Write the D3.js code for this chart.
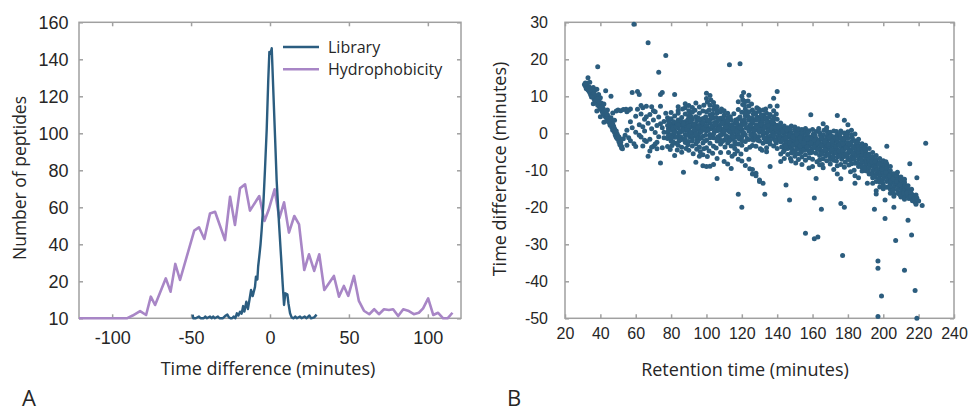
<!DOCTYPE html>
<html>
<head>
<meta charset="utf-8">
<script src="https://cdn.jsdelivr.net/npm/d3@7"></script>
<style>
  body { margin: 0; background: #fff; }
  svg { font-family: "Open Sans", Lato, sans-serif; }
  .axis text { fill: #262626; }
  .axis line { stroke: #a0a0a0; stroke-width: 1.5; }
  .axis path { display: none; }
</style>
</head>
<body>
<div id="chart"></div>
<script>
// ---- panel A data: histogram of time differences ----
var libraryX = [-49, -48.6, -47, -45, -44, -42, -41, -40, -38, -37, -36, -35, -33, -32, -30, -28, -27, -26, -25, -24, -23, -22,
  -21, -20, -19, -18, -17, -16.2, -15, -14, -13, -12, -11, -10.5, -9.5, -8.9, -8, -7.5, -6.8, -6, -5.3, -4.2, -3.2, -2.1, -1.1,
  -0.4, 0.3, 1.1, 2.1, 3.2, 4.2, 5.7, 7, 8, 8.9, 9.7, 11, 11.7, 12.7, 13.7, 15, 16, 17, 19, 20, 22, 23, 25, 26, 28, 29.5];
var libraryCount = [2, 0, 0, 1, 0, 0, 1, 0, 1, 0, 1, 0, 1, 0, 0, 1.5, 2, 0.5, 0, 0, 1, 0,
  2.7, 1.5, 3.6, 2.5, 6.6, 3.6, 9, 5, 10, 15.3, 12, 13.5, 17, 22.5, 21, 28, 33.3, 40, 47.7, 62, 80, 101.8, 128.8,
  144, 143, 146, 123, 98, 74.8, 51.4, 33.3, 19, 7.2, 13.5, 13, 8, 2.7, 0.5, 0, 1, 0, 1, 0, 1, 0, 1.5, 0, 0.5, 2];

var hydroX = [-121, -106, -90.7, -87, -82.3, -78.5, -75.5, -72.8, -66, -63, -60, -57, -48, -45, -41.6, -38, -34.8, -28.5,
  -25.3, -22.2, -19, -15.8, -12.7, -6.8, -3.5, -0.9, 2.9, 5.9, 8.9, 12, 15.4, 18.4, 21.7, 24.7, 28, 31.2, 34.4, 40.5, 43.7,
  46.8, 49.6, 53.2, 56.3, 59.5, 62.9, 66, 69, 72.2, 75.3, 78, 81.2, 84.4, 87.5, 91.1, 94.3, 97, 100.2, 103.4, 106.5, 109.7, 112.5, 115.6];
var hydroCount = [0, 0, 0, 1.5, 3.9, 1.8, 11.7, 7.2, 21.6, 14.4, 29.4, 20.7, 47.4, 49.2, 42.9, 56.7, 57.6, 42.3,
  65.7, 50.4, 70.3, 72.4, 58.2, 66.1, 52.6, 58.5, 69.7, 54, 62.7, 46.3, 55.3, 50.8, 26.1, 34.6, 25.6, 34.6, 15.3, 22.9, 11.7,
  17.5, 12.1, 22.9, 9.4, 4.1, 2.2, 4.9, 2.2, 4.9, 4.5, 4.9, 1.2, 4.9, 4.1, 2.2, 3, 5.4, 10.8, 1.8, 3, 0, 0, 3];

var aXTicks = [-100, -50, 0, 50, 100];
var aYTicks = [0, 20, 40, 60, 80, 100, 120, 140, 160];
var aYTickLabels = ["10", "20", "40", "60", "80", "100", "120", "140", "160"];
var legendNames = ["Library", "Hydrophobicity"];

// ---- panel B data: retention time vs time difference ----
var rtDiff = [
  [31,13.2],[31.5,12.8],[32,12.1],[32.5,13.5],[33,11.8],[33,15],[33.5,12.6],[34,11],[34,13.8],[34.5,10.4],[35,12.2],[35,9.8],
  [35.5,11.3],[36,10.6],[36,12.4],[36.5,9.2],[37,11.8],[37,8.3],[37.5,10.1],[38,9.4],[38,11.9],[38.5,7.6],[38.5,18],[39,8.8],
  [39,10.5],[39.5,7.1],[40,9.6],[40,6.5],[40.5,8.2],[41,5.9],[41,7.4],[41.5,6.8],[42,5.2],[42,7.9],[42.5,4.6],[43,5.8],[43,11.5],
  [43.5,4.1],[44,5],[44,3.4],[44.5,4.4],[45,2.9],[45,3.8],[45.5,2.2],[46,3.3],[46,10],[46.5,1.6],[47,2.5],[47,0.8],[47.5,1.9],
  [48,0.2],[48,1.2],[48.5,-0.5],[49,0.6],[49,-1.1],[49.5,-0.2],[50,-1.6],[50,-0.8],[50.5,-2.3],[51,-1.5],[51,-3],[51.5,-2.4],
  [52,-3.6],[52,-4],[36,8],[38,6],[40,4.5],[42,3],[44,6.3],[46,4.2],[48,3.5],[47,5.5],[49,6],[50,6.3],[51.5,6.1],[53,6.4],
  [54.5,6.5],[56,6.2],[57,6.6],[55,5.8],
  [31.5,13.6],[32.5,12],[33.5,11.4],[34.5,11.7],[35.5,10],[36.5,10.8],[37.5,8.9],[38.5,9.3],[39.5,8.4],[40.5,6.9],[41.5,5.5],
  [42.5,6.1],[43.5,5.2],[44.5,3.1],[45.5,3.5],[46.5,2.6],[47.5,1],[48.5,0.7],[49.5,-1.4],[50.5,-1],[51.5,-3.3],[52.5,-4.2],
  [53,-1.5],[54,-0.5],[55,0.8],[56,-1.2],[57,-2],[58,1.5],[58,11],[59,29.5],[59,-2.8],[60,0.3],[60,4.6],[61,11.3],[61,6.5],
  [62,10.5],[62,2.3],[63,-1],[63,5.2],[64,6.9],[64,-3.4],[65,3.8],[65,0.6],[66,7.3],[66,-2.2],[67,24.5],[67,-6.2],[67,2.7],
  [68,5.1],[68,-1.6],[69,1.2],[69,7.2],[70,-3.5],[70,3.6],[71,0.2],[71,5.8],[72,-2.4],[72,2.1],[73,16.5],[73,4.4],[73,-0.9],
  [74,10.5],[74,-8],[74,7.3],[75,11],[75,1.5],[75,-3.9],[76,3.2],[76,-1.2],[77,21],[77,5.4],[62,-0.5],[64,1.8],[66,4.5],
  [70,6.1],[72,-4.2],[57,3.1],[60,-3.6],[68,-4.8],[71,-2.9],[74,2.6],[76,0.3],[63,7.5],[65,-1.9],[69,-3.8],[55,-3.2],
  [78,2.1],[78,-1.4],[78,4.2],[78,0.3],[78,-3.6],[78.5,1.2],[78.5,-0.6],[78.5,3.4],
  [80,-2.1],[80,1.7],[80,3.9],[80,-0.4],[80,5.6],[80.5,0.9],[80.5,-3.3],[80.5,2.6],[79.5,-4.4],
  [82,10.5],[82,-6],[82,2.4],[82,-1.1],[82,0.6],[82,4.7],[82.5,-2.7],[82.5,1.9],[81.5,3.1],[81.5,-0.2],
  [84,7.2],[84,-3.2],[84,1.4],[84,-0.8],[84,3.6],[84,5.4],[84.5,0.2],[84.5,-2],[83.5,2.8],[83.5,-4.5],[84,6.1],
  [86,-1.7],[86,2.1],[86,4.3],[86,0.5],[86,-3.8],[86.5,6.6],[86.5,1.3],[85.5,-0.9],[85.5,3.2],[86,-5.1],
  [87,-10.5],[88,8],[88,-2.5],[88,0.9],[88,3.1],[88,-0.3],[88,5.2],[88.5,2.2],[88.5,-4.1],[87.5,1.6],[87.5,-1.4],[88,6.9],
  [90,7.5],[90,-2.2],[90,0.4],[90,2.8],[90,4.6],[90,-4.6],[90.5,1.5],[90.5,-0.9],[89.5,3.7],[89.5,-3.1],[90,6.1],[90.5,5.3],
  [92,-1.3],[92,1.9],[92,3.8],[92,-3.4],[92,0.1],[92,5.7],[92.5,2.6],[92.5,-5.5],[91.5,-0.6],[91.5,4.4],[92,7],
  [94,8.2],[94,-7.8],[94,2.3],[94,-0.7],[94,4.5],[94,-2.9],[94,0.8],[94.5,3.4],[94.5,-4.3],[93.5,1.7],[93.5,6.2],[94.5,-1.8],
  [96,-6.2],[96,1.2],[96,-1.5],[96,3.5],[96,5.4],[96,-3.7],[96.5,0.3],[96.5,2.4],[95.5,4.1],[95.5,-0.4],[96,7.1],[96.5,-5],
  [98,-8.8],[98,2],[98,-0.8],[98,4],[98,-2.6],[98,6],[98.5,0.9],[98.5,-4.2],[97.5,3],[97.5,1.3],[98,-5.8],[98.5,7.6],
  [100,10.8],[100,-9],[100,0.6],[100,3.3],[100,-1.9],[100,5.8],[100,-3.9],[100.5,1.7],[100.5,8.4],[99.5,4.5],[99.5,-0.5],[100.5,-6.3],[100,9.4],
  [102,10.2],[102,-8.9],[102,2.8],[102,-0.3],[102,5],[102,-2.7],[102,7.6],[102.5,1.2],[102.5,3.9],[101.5,-4.8],[101.5,6.3],[102.5,9],
  [104,8.3],[104,-8.4],[104,1.8],[104,4.2],[104,-1.2],[104,-3.5],[104,6.4],[104.5,0.4],[104.5,2.9],[103.5,-5.4],[103.5,5.3],[104.5,7.3],
  [106,-12.2],[106,-6.8],[106,3.1],[106,0.7],[106,5.5],[106,-2.1],[106,7.2],[106.5,1.9],[106.5,-0.9],[105.5,4.3],[105.5,-4],[106,6.1],
  [108,5.8],[108,2.4],[108,-0.6],[108,4.1],[108,-2.9],[108,0.9],[108.5,6.6],[108.5,3.3],[107.5,-1.7],[107.5,1.6],[108,-5.2],
  [110,4.9],[110,1.3],[110,-1.8],[110,3],[110,-0.2],[110,6.1],[110.5,2.2],[110.5,-3.7],[109.5,4],[109.5,0.5],[110,-7.6],
  [112,2.5],[112,-0.9],[112,4.3],[112,0.8],[112,-2.6],[112,5.4],[112.5,1.6],[112.5,-5.2],[111.5,3.4],[111.5,-1.4],[112,-8.3],
  [113,18.5],[114,1.1],[114,-1.6],[114,3.5],[114,-3.4],[114,0.2],[114.5,2.3],[114.5,-0.5],[113.5,4.5],[114,-9.5],[114.5,-6.2],
  [116,0.4],[116,2.7],[116,-2.3],[116,-4.1],[116,1.5],[116.5,-0.8],[116.5,3.6],[115.5,-1.2],[116,-5.6],[115.5,5.3],
  [118,8.5],[118,-16.5],[118,1.8],[118,-0.3],[118,-2.9],[118,3.9],[118,6.4],[118.5,0.6],[118.5,-1.5],[117.5,2.5],[117.5,-4.8],[118,-7],
  [119,18.8],[120,-20],[120,10],[120,1.1],[120,3.3],[120,-1],[120,5.7],[120,-3.2],[120.5,7.8],[120.5,0.1],[119.5,2.2],[119.5,-5.6],[120,-7.5],[120.5,9.1],
  [121,11],[122,8.6],[122,2.7],[122,-0.4],[122,4.8],[122,-2.2],[122,6.5],[122.5,1.4],[122.5,-4.4],[121.5,3.7],[121.5,7.5],[122,-8.7],
  [124,10.3],[124,-7],[124,3.5],[124,0.6],[124,5.8],[124,-1.7],[124,7.4],[124.5,2.2],[124.5,-3.8],[123.5,4.6],[123.5,8.7],[124.5,-9.6],[124,1.4],
  [126,-11],[126,4.1],[126,1.2],[126,-0.9],[126,6.3],[126,2.8],[126,-3.3],[126.5,5.2],[126.5,-1.9],[125.5,3.3],[125.5,7.9],[126,-9.8],[126.5,0.2],
  [128,-11.5],[128,3.6],[128,0.8],[128,5.5],[128,-1.4],[128,2.3],[128,-3.5],[128.5,4.4],[128.5,6.9],[127.5,1.5],[127.5,-0.5],[128,-10.8],
  [130,-13],[130,2.6],[130,0.3],[130,4.3],[130,-2.1],[130,1.5],[130,5.9],[130.5,-4.2],[130.5,3.4],[129.5,-0.9],[129.5,6.6],[130,-12.6],
  [132,6.3],[132,1.9],[132,-0.6],[132,3.8],[132,-2.7],[132,0.9],[132.5,5],[132.5,-1.3],[131.5,2.9],[131.5,-4.6],[132,-13.5],
  [133,-16.5],[134,-5],[134,2.4],[134,0.1],[134,3.6],[134,-2.3],[134,5.4],[134.5,1.2],[134.5,-1],[133.5,6.6],[133.5,4.1],[134,-3.9],
  [136,7.3],[136,1.6],[136,-0.8],[136,3.1],[136,-2.9],[136,5.1],[136.5,0.5],[136.5,2.4],[135.5,-1.8],[135.5,4.4],[136,-9],
  [138,9.5],[138,6.1],[138,0.9],[138,-1.4],[138,2.8],[138,-3.4],[138,4.5],[138.5,0.2],[138.5,1.9],[137.5,-0.4],[137.5,3.6],
  [140,11.3],[140,7.4],[140,0.3],[140,2.2],[140,-1.9],[140,-4.1],[140,3.8],[140.5,1],[140.5,-0.8],[139.5,5.2],[139.5,-2.6],
  [79,0.8],[79,2.9],[80,-1.2],[81,1.4],[81,-2.3],[82,0.2],[83,1.8],[83,-1],[84,2.4],[85,0.5],[85,-1.8],[86,3.1],[87,0.9],
  [87,2.6],[88,-1.6],[89,1.1],[89,-0.4],[90,2],[91,0.3],[91,3.3],[92,-2.1],[93,0.9],[93,2.4],[94,-0.1],[95,1.6],[95,-2.2],
  [96,3.8],[97,0.5],[97,-1.3],[98,2.8],[99,1.4],[99,-2.1],[100,2.2],[101,0.8],[101,3.6],[102,-1.2],[103,1.9],[103,4.5],
  [104,-0.2],[105,2.5],[105,0.9],[106,-1.5],[107,3.9],[107,1.2],[108,-0.3],[109,2.7],[109,-2.2],[110,0.6],[111,1.8],
  [111,-0.7],[112,3.2],[113,0.4],[113,-2],[114,2.1],[115,-0.9],[115,1.3],[116,-3],[117,0.7],[117,3.1],[118,-1.2],[119,1.5],
  [119,4.4],[120,-2],[121,2.4],[121,0.2],[122,5.5],[123,1.6],[123,-1.4],[124,4.2],[125,2.1],[125,-0.4],[126,3.2],[127,5.6],
  [127,0.9],[128,1.8],[129,3.8],[129,-1.9],[130,0.9],[131,2.3],[131,4.9],[132,0.2],[133,1.7],[133,-1.5],[134,3],[135,0.6],
  [135,2.1],[136,-1.9],[137,1.4],[137,3.2],[138,-0.6],[139,1.6],[139,-2],[140,0.8],[141,-0.6],[141,1.2],
  [142,-7.6],[142,0.2],[142,-2.3],[142,1.6],[142,-0.9],[142,2.8],[142.5,-3.7],[142.5,0.9],[141.5,-1.5],[141.5,1.9],[142,-5.6],
  [144,-1.2],[144,0.8],[144,-3.1],[144,2],[144,-4.6],[144,-0.2],[144.5,1.2],[144.5,-2],[143.5,-5],[143.5,0.4],[144,-6.8],
  [145,-14],[146,-2.2],[146,0.3],[146,-4.1],[146,1.5],[146,-1],[146,-5.7],[146.5,-3.1],[146.5,-0.4],[145.5,-2.6],[145.5,0.9],
  [147,-18],[148,2],[148,-1.5],[148,-3.6],[148,0.1],[148,-5.3],[148,-2.5],[148.5,-0.8],[148.5,-4.4],[147.5,-6.8],[147.5,1.1],[148,-7.5],
  [150,-2.6],[150,-0.4],[150,-4.8],[150,0.9],[150,-1.7],[150,-6.2],[150.5,-3.3],[150.5,-0.1],[149.5,-5.1],[149.5,-1.2],[150,1.7],[150.5,-8],
  [152,-3.4],[152,-1],[152,0.6],[152,-5.5],[152,-2.2],[152,-7.1],[152.5,-4.1],[152.5,0.1],[151.5,-1.7],[151.5,-3],[152,1.2],
  [154,-2.8],[154,-0.5],[154,-4.6],[154,1],[154,-6.4],[154,-1.6],[154.5,-3.6],[154.5,0.3],[153.5,-5.2],[153.5,-2],[154,-8.4],
  [156,-27],[156,-3.9],[156,-1.2],[156,0.4],[156,-5.8],[156,-2.5],[156,-7.3],[156.5,-4.4],[156.5,-0.3],[155.5,-1.8],[155.5,-3.1],[156,1.3],
  [158,-2.1],[158,-4.8],[158,0.7],[158,-0.9],[158,-6.6],[158,-3.4],[158.5,-1.5],[158.5,-5.3],[157.5,-2.8],[157.5,0.2],[158,-9.4],
  [159,5],[160,-3],[160,-0.8],[160,-5.1],[160,1],[160,-2],[160,-7],[160.5,-3.9],[160.5,-0.2],[159.5,-4.4],[159.5,-1.6],[160,-9],
  [161,-28.5],[161,-17.5],[162,-12.2],[162,-3.6],[162,-1.4],[162,0.5],[162,-5.4],[162,-2.4],[162.5,-7.7],[162.5,-4.2],[161.5,-0.6],[161.5,-3.1],
  [163,-28],[164,-4.1],[164,-1.8],[164,0.2],[164,-6],[164,-3],[164,-8.5],[164.5,-0.6],[164.5,-5],[163.5,-2.3],[163.5,1.3],[164,-7.2],
  [165,-20.5],[166,2.6],[166,-2.7],[166,-0.4],[166,-4.8],[166,-6.9],[166,-1.6],[166.5,-3.6],[166.5,0.8],[165.5,-5.6],[165.5,-8.4],[166,-9.3],
  [168,-3.2],[168,-1],[168,-5.3],[168,0.7],[168,-2.1],[168,-7.4],[168.5,-4.2],[168.5,-0.2],[167.5,-6.1],[167.5,-2.6],[168,1.6],
  [170,-4],[170,-1.6],[170,-6.3],[170,0.3],[170,-2.8],[170,-8.3],[170.5,-5],[170.5,-0.7],[169.5,-3.6],[169.5,-1.1],[170,-7.1],
  [172,-3.3],[172,-0.9],[172,-5.4],[172,-2.2],[172,-7.3],[172,0.6],[172.5,-4.4],[172.5,-1.5],[171.5,-6.3],[171.5,-2.8],[172,-9.8],
  [174,4.8],[174,-11],[174,-2.4],[174,-4.5],[174,-0.4],[174,-6.4],[174,-3.3],[174.5,-1.4],[174.5,-5.5],[173.5,-7.5],[173.5,0.5],[174,-8.8],
  [176,-19],[176,-12.3],[176,-3.6],[176,-1.2],[176,-5.6],[176,0.6],[176,-2.4],[176.5,-7],[176.5,-4.3],[175.5,-0.2],[175.5,-6.2],[176,-8.4],
  [177,-33],[178,-20],[178,3.5],[178,-4.2],[178,-2],[178,-6.3],[178,0.1],[178,-3.1],[178.5,-7.8],[178.5,-0.9],[177.5,-5.2],[177.5,-1.6],[178,-9.2],
  [180,-3.5],[180,-5.4],[180,-1.3],[180,-7.1],[180,0.4],[180,-2.5],[180.5,-4.4],[180.5,-8.6],[179.5,-0.4],[179.5,-6.2],[180,2.3],
  [182,-4.5],[182,-2.3],[182,-6.4],[182,-0.4],[182,-8.2],[182,-3.3],[182.5,-5.4],[182.5,-1.3],[181.5,-7.3],[181.5,-10.4],[182,0.8],
  [184,-13.5],[184,-4],[184,-6],[184,-2],[184,-8.1],[184,-0.2],[184.5,-5],[184.5,-3],[183.5,-7],[183.5,-10],[184,-11.5],
  [143,-1.8],[143,0.4],[145,-1.2],[145,-3.5],[147,-2.6],[147,-0.5],[149,-3.2],[149,-1],[151,-2.6],[151,-4.3],[151,-0.3],
  [153,-3.4],[153,-1.2],[155,-2.6],[155,-4.6],[157,-3.7],[157,-1.5],[159,-2.7],[159,-5.1],[161,-3.7],[161,-1.9],[163,-4.3],
  [163,-2.6],[165,-3.3],[165,-1.3],[167,-4.5],[167,-2.3],[169,-3],[169,-5.6],[171,-4.4],[171,-2],[173,-3.6],[173,-5.2],
  [175,-3.2],[175,-4.8],[177,-2.8],[177,-4.6],[179,-3.9],[179,-5.6],[181,-4.9],[181,-2.9],[183,-5.4],[183,-3.7],[185,-6],
  [185,-4.4],[187,-6.4],[187,-5],[189,-7.5],[189,-5.9],[191,-8],[191,-6.6],[193,-8.7],[193,-6.8],[195,-9.4],[195,-8.2],
  [197,-9.9],[197,-10.9],[199,-11],[199,-9.4],[201,-11.8],[201,-10.1],[203,-12.5],[203,-11],[205,-13.2],[205,-12],[207,-14],
  [207,-12.5],[209,-14.8],[209,-13.5],[211,-15],[211,-14.2],[213,-15.6],[215,-16.4],[217,-16.8],
  [186,-5.2],[186,-3.4],[186,-7.1],[186,-1.6],[186,-9],[186.5,-4.3],[186.5,-6.2],[185.5,-2.5],[185.5,-8],[186,-12],
  [188,-6],[188,-4.1],[188,-7.9],[188,-2.8],[188,-10.2],[188.5,-5],[188.5,-3.3],[187.5,-6.9],[187.5,-8.8],[188,-9.2],
  [190,-6.7],[190,-4.8],[190,-8.6],[190,-3.2],[190,-10.1],[190.5,-5.7],[190.5,-7.6],[189.5,-4],[189.5,-9.4],[190,-5.9],
  [191,-13.5],[192,-7.5],[192,-5.6],[192,-9.3],[192,-4.1],[192,-11],[192.5,-6.5],[192.5,-8.4],[191.5,-6],[191.5,-10.3],[192,-7],
  [194,-8.3],[194,-6.4],[194,-10.1],[194,-5.2],[194,-12],[194.5,-7.2],[194.5,-9.1],[193.5,-7.7],[193.5,-11.1],[194,-13.5],
  [195,-20.5],[196,-9],[196,-7.1],[196,-10.9],[196,-6],[196,-13],[196.5,-8],[196.5,-9.9],[195.5,-7.6],[195.5,-11.8],[196,-15.5],[196,-16.4],
  [197,-34.5],[197,-36.5],[197,-49.5],[199,-44],[198,-9.7],[198,-7.9],[198,-11.5],[198,-6.8],[198,-13.2],[198.5,-8.8],[198.5,-10.6],[197.5,-12.3],[197.5,-8.3],[198,-14.5],
  [200,-10.5],[200,-8.6],[200,-12.3],[200,-7.4],[200,-14],[200.5,-9.4],[200.5,-11.4],[199.5,-9.8],[199.5,-13.2],[200,-15],
  [201,-23],[201,-18],[202,-3.5],[202,-11.2],[202,-9.4],[202,-13],[202,-8.3],[202,-14.6],[202.5,-10.2],[202.5,-12.1],[201.5,-10.6],[201.5,-7.7],
  [204,-12],[204,-10.1],[204,-13.8],[204,-9],[204,-15.1],[204.5,-11],[204.5,-12.9],[203.5,-11.5],[203.5,-14.3],[204,-16.2],
  [206,-20],[206,-12.8],[206,-10.9],[206,-14.5],[206,-16.4],[206.5,-11.8],[206.5,-13.6],[205.5,-12.3],[205.5,-15.3],[206,-17],
  [207,-29],[208,-13.5],[208,-11.7],[208,-15.3],[208,-12.6],[208.5,-14.3],[208.5,-16.3],[207.5,-13],[207.5,-11.3],[208,-10.5],
  [210,-14.2],[210,-12.4],[210,-16],[210,-17.2],[210.5,-13.4],[210.5,-15.1],[209.5,-13.9],[209.5,-16.6],[210,-11.8],
  [212,-37],[212,-15],[212,-13.2],[212,-16.7],[212,-12.4],[212.5,-14.1],[212.5,-17.1],[211.5,-15.6],[211.5,-16.2],[212,-17.8],
  [214,-23.5],[214,-15.7],[214,-16.8],[214,-14.2],[214.5,-15.4],[214.5,-17.6],[213.5,-16.1],[213.5,-14.6],
  [215,-8.2],[216,-27.5],[216,-16.4],[216,-17.6],[216,-15.1],[216.5,-16.9],[216.5,-18.2],[215.5,-15.9],[215.5,-17.1],
  [218,-42.5],[218,-17],[218,-18.6],[218.5,-16.7],[218.5,-19.2],[217.5,-17.6],[219,-12],[219,-17.5],[219,-50],[220,-18.3],
  [222,-19.5],[224,-2.7]
];
var bXTicks = [20, 40, 60, 80, 100, 120, 140, 160, 180, 200, 220, 240];
var bYTicks = [-50, -40, -30, -20, -10, 0, 10, 20, 30];

var libraryColor = "#2b5d80", hydroColor = "#a886c6", dotColor = "#2c5d7e";

var svg = d3.select("#chart").append("svg").attr("width", 971).attr("height", 411);

// plain hyphen for negatives, like the original
function plain(d) { return String(d); }

// framed box with inward ticks on all four sides
function frame(g, x, y, xTicks, yTicks, yFormat, padX, padY) {
  var x0 = x.range()[0], x1 = x.range()[1], y0 = y.range()[0], y1 = y.range()[1];
  g.append("g").attr("class", "axis").attr("transform", "translate(0," + y0 + ")")
    .call(d3.axisBottom(x).tickValues(xTicks).tickSize(-4).tickPadding(padX).tickFormat(plain));
  g.append("g").attr("class", "axis").attr("transform", "translate(0," + y1 + ")")
    .call(d3.axisTop(x).tickValues(xTicks).tickSize(-4).tickFormat(""));
  g.append("g").attr("class", "axis").attr("transform", "translate(" + x0 + ",0)")
    .call(d3.axisLeft(y).tickValues(yTicks).tickSize(-4).tickPadding(padY).tickFormat(yFormat));
  g.append("g").attr("class", "axis").attr("transform", "translate(" + x1 + ",0)")
    .call(d3.axisRight(y).tickValues(yTicks).tickSize(-4).tickFormat(""));
  g.append("rect").attr("x", x0).attr("y", y1).attr("width", x1 - x0).attr("height", y0 - y1)
    .attr("fill", "none").attr("stroke", "#a0a0a0").attr("stroke-width", 1.5);
}

// ---------- panel A ----------
var gA = svg.append("g");
var xA = d3.scaleLinear().domain([-121, 121]).range([79, 461]);
var yA = d3.scaleLinear().domain([0, 160]).range([318.3, 22.3]);

frame(gA, xA, yA, aXTicks, aYTicks, function(d, i) { return aYTickLabels[i]; }, 13, 10.5);
gA.selectAll(".axis text").style("font-size", "18px");

var line = d3.line().x(function(d) { return xA(d[0]); }).y(function(d) { return yA(d[1]); });

gA.append("path")
  .datum(d3.zip(hydroX, hydroCount))
  .attr("d", line).attr("fill", "none").attr("stroke", hydroColor)
  .attr("stroke-width", 2.6).attr("stroke-linejoin", "round");

gA.append("path")
  .datum(d3.zip(libraryX, libraryCount))
  .attr("d", line).attr("fill", "none").attr("stroke", libraryColor)
  .attr("stroke-width", 2.4).attr("stroke-linejoin", "round");

// legend
var legend = gA.append("g");
[libraryColor, hydroColor].forEach(function(c, i) {
  var ly = 47 + i * 22.3;
  legend.append("line").attr("x1", 283).attr("x2", 319).attr("y1", ly).attr("y2", ly)
    .attr("stroke", c).attr("stroke-width", 2.6);
  legend.append("text").attr("x", 328).attr("y", ly + 6).attr("fill", "#262626")
    .style("font-size", "16px").text(legendNames[i]);
});

gA.append("text").attr("x", 268).attr("y", 375).attr("text-anchor", "middle")
  .attr("fill", "#262626").style("font-size", "18px").text("Time difference (minutes)");
gA.append("text").attr("transform", "translate(26,178) rotate(-90)").attr("text-anchor", "middle")
  .attr("fill", "#262626").style("font-size", "17.5px").text("Number of peptides");
gA.append("text").attr("x", 22).attr("y", 406).attr("fill", "#262626")
  .style("font-size", "22px").text("A");

// ---------- panel B ----------
var gB = svg.append("g");
var xB = d3.scaleLinear().domain([20, 240]).range([565, 954]);
var yB = d3.scaleLinear().domain([-50, 30]).range([318.3, 22.3]);

frame(gB, xB, yB, bXTicks, bYTicks, plain, 9.5, 17);
gB.selectAll(".axis text").style("font-size", "16px");

gB.selectAll(".dot")
  .data(rtDiff).enter().append("circle")
  .attr("class", "dot")
  .attr("cx", function(d) { return xB(d[0]); })
  .attr("cy", function(d) { return yB(d[1]); })
  .attr("r", 2.5)
  .attr("fill", dotColor);

gB.append("text").attr("x", 745).attr("y", 376).attr("text-anchor", "middle")
  .attr("fill", "#262626").style("font-size", "18px").text("Retention time (minutes)");
gB.append("text").attr("transform", "translate(506,169) rotate(-90)").attr("text-anchor", "middle")
  .attr("fill", "#262626").style("font-size", "18px").text("Time difference (minutes)");
gB.append("text").attr("x", 507).attr("y", 406).attr("fill", "#262626")
  .style("font-size", "22px").text("B");
</script>
</body>
</html>
